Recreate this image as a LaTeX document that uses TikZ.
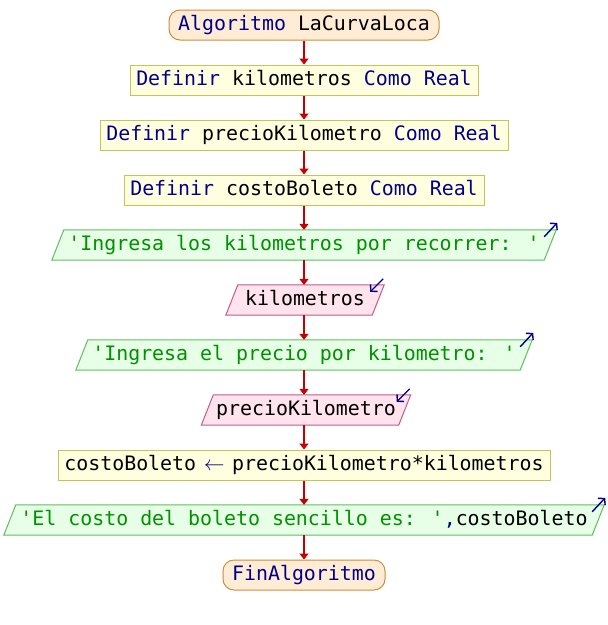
\documentclass[tikz,border=0pt]{standalone}
\usepackage{fontspec}
\newfontfamily\flowmono{DejaVu Sans Mono}[Ligatures=TeXOff]
\usetikzlibrary{calc,arrows.meta,backgrounds}

\definecolor{kwcol}{RGB}{0,0,140}
\definecolor{strcol}{RGB}{0,145,0}
\definecolor{flowred}{RGB}{200,0,0}
\definecolor{termfill}{RGB}{255,236,212}
\definecolor{termline}{RGB}{205,140,60}
\definecolor{procfill}{RGB}{255,255,224}
\definecolor{procline}{RGB}{196,196,90}
\definecolor{outfill}{RGB}{230,255,230}
\definecolor{outline}{RGB}{96,190,96}
\definecolor{infill}{RGB}{255,228,238}
\definecolor{inline}{RGB}{196,90,136}

\newcommand\pskw[1]{\textcolor{kwcol}{#1}}
\newcommand\psstr[1]{\textcolor{strcol}{#1}}
% assignment arrow, one character cell wide
\newcommand\psassign{\makebox[12pt][c]{\textcolor{kwcol}{$\leftarrow$}}}
% parallelogram behind an I/O node: slanted sides, top shifted right
\newcommand\ioshape[3]{%
  \path[fill=#2,draw=#3,line width=1pt]
    ($(#1.south west)+(-6,0)$) -- ($(#1.north west)+(6,0)$) --
    ($(#1.north east)+(6,0)$) -- ($(#1.south east)+(-6,0)$) -- cycle;}

\begin{document}
\begin{tikzpicture}[x=1pt,y=-1pt,
  txt/.style={font=\flowmono\fontsize{19.9}{24}\selectfont,
    text height=14.5pt, text depth=3.5pt, minimum height=30pt,
    inner ysep=0pt, inner xsep=0pt},
  termbox/.style={txt, draw=termline, fill=termfill, line width=1pt,
    rounded corners=11pt, minimum width=#1},
  procbox/.style={txt, draw=procline, fill=procfill, line width=1pt,
    minimum width=#1},
  iobox/.style={txt, minimum width=#1},
  flowline/.style={draw=flowred, line width=1.6pt,
    -{Triangle[length=6pt,width=9pt]}},
  ioarrow/.style={draw=kwcol, line width=1.4pt,
    -{Straight Barb[length=4.5pt,width=10pt]}},
]
\useasboundingbox (0,0) rectangle (608,625);

\node[termbox=270pt] (start) at (304,25) {\pskw{Algoritmo} LaCurvaLoca};
\node[procbox=348pt] (defkm) at (304,80) {\pskw{Definir} kilometros \pskw{Como Real}};
\node[procbox=408pt] (defprecio) at (304,135) {\pskw{Definir} precioKilometro \pskw{Como Real}};
\node[procbox=360pt] (defcosto) at (304,190) {\pskw{Definir} costoBoleto \pskw{Como Real}};
\node[iobox=492pt] (outkm) at (304,245) {\psstr{'Ingresa los kilometros por recorrer: '}};
\node[iobox=146pt] (inkm) at (305,300) {kilometros};
\node[iobox=444pt] (outprecio) at (304,355) {\psstr{'Ingresa el precio por kilometro: '}};
\node[iobox=197pt] (inprecio) at (306,410) {precioKilometro};
\node[procbox=492pt] (asig) at (304,465) {costoBoleto \psassign{} precioKilometro*kilometros};
\node[iobox=588pt] (outcosto) at (304,520) {\psstr{'El costo del boleto sencillo es: '}\pskw{,}costoBoleto};
\node[termbox=162pt] (fin) at (304,575) {\pskw{FinAlgoritmo}};

\begin{pgfonlayer}{background}
  \ioshape{outkm}{outfill}{outline}
  \ioshape{inkm}{infill}{inline}
  \ioshape{outprecio}{outfill}{outline}
  \ioshape{inprecio}{infill}{inline}
  \ioshape{outcosto}{outfill}{outline}
\end{pgfonlayer}

% flow connectors
\draw[flowline] (start) -- (defkm);
\draw[flowline] (defkm) -- (defprecio);
\draw[flowline] (defprecio) -- (defcosto);
\draw[flowline] (defcosto) -- (outkm);
\draw[flowline] (outkm.south -| start) -- (inkm.north -| start);
\draw[flowline] (inkm.south -| start) -- (outprecio.north -| start);
\draw[flowline] (outprecio.south -| start) -- (inprecio.north -| start);
\draw[flowline] (inprecio.south -| start) -- (asig.north -| start);
\draw[flowline] (asig) -- (outcosto);
\draw[flowline] (outcosto) -- (fin);

% output / input markers at the upper right corners
\draw[ioarrow] ($(outkm.north east)+(-6,7)$) -- ($(outkm.north east)+(7,-7)$);
\draw[ioarrow] ($(outprecio.north east)+(-6,7)$) -- ($(outprecio.north east)+(7,-7)$);
\draw[ioarrow] ($(outcosto.north east)+(-6,7)$) -- ($(outcosto.north east)+(7,-7)$);
\draw[ioarrow] ($(inkm.north east)+(5,-6)$) -- ($(inkm.north east)+(-8,7)$);
\draw[ioarrow] ($(inprecio.north east)+(5,-6)$) -- ($(inprecio.north east)+(-8,7)$);
\end{tikzpicture}
\end{document}
